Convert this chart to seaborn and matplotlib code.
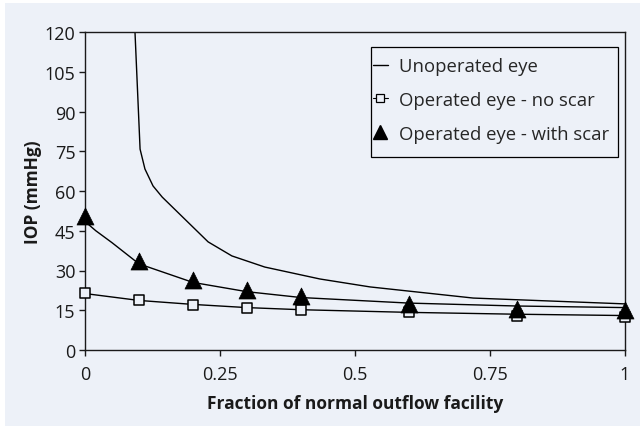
import matplotlib
matplotlib.use("Agg")
import matplotlib.pyplot as plt
from matplotlib.lines import Line2D
from matplotlib.patches import Rectangle
import seaborn as sns

# ---- data ----
unop_x = [0.09, 0.102, 0.111, 0.126, 0.143, 0.228, 0.272, 0.333, 0.435, 0.528, 0.719, 1.0]
unop_y = [132, 75.8, 68.3, 61.9, 57.7, 40.8, 35.5, 31.3, 26.8, 23.8, 19.6, 17.4]

scar_line_x = [0.0, 0.02, 0.05, 0.1, 0.2, 0.3, 0.4, 0.6, 0.8, 1.0]
scar_line_y = [48.5, 45.0, 40.5, 32.5, 25.5, 22.0, 19.8, 17.7, 16.6, 16.0]

noscar_line_x = [0.0, 0.1, 0.2, 0.3, 0.4, 0.6, 0.8, 1.0]
noscar_line_y = [21.3, 18.7, 17.2, 16.0, 15.2, 14.2, 13.5, 13.0]

marker_x = [0.0, 0.1, 0.2, 0.3, 0.4, 0.6, 0.8, 1.0]
scar_marker_y = [50.5, 33.6, 26.4, 22.8, 20.3, 17.5, 15.6, 15.0]
noscar_marker_y = [21.4, 18.9, 17.0, 15.8, 15.1, 14.2, 13.0, 12.6]

xticks = [0, 0.25, 0.5, 0.75, 1]
xticklabels = ["0", "0.25", "0.5", "0.75", "1"]
yticks = [0, 15, 30, 45, 60, 75, 90, 105, 120]

labels = ["Unoperated eye", "Operated eye - no scar", "Operated eye - with scar"]
xlabel = "Fraction of normal outflow facility"
ylabel = "IOP (mmHg)"

BG = "#edf1f8"
INK = "#1a1a1a"

sns.set_style("ticks")
plt.rcParams["font.family"] = ["Open Sans", "DejaVu Sans"]
plt.rcParams["font.size"] = 13

fig = plt.figure(figsize=(6.4, 4.27), dpi=100, facecolor="white")
fig.patches.append(Rectangle((5 / 640, 0), 1 - 5 / 640, (427 - 4) / 427,
                             transform=fig.transFigure, facecolor=BG,
                             edgecolor="none", zorder=-10))
ax = fig.add_axes([85 / 640, (427 - 351) / 427, (625 - 85) / 640, (351 - 33) / 427])
ax.set_facecolor(BG)

sns.lineplot(x=unop_x, y=unop_y, sort=False, color="black", lw=1.0, ax=ax, zorder=2)
sns.lineplot(x=scar_line_x, y=scar_line_y, sort=False, color="black", lw=1.0, ax=ax, zorder=2)
sns.lineplot(x=noscar_line_x, y=noscar_line_y, sort=False, color="black", lw=1.0, ax=ax, zorder=2)

sns.scatterplot(x=marker_x, y=noscar_marker_y, marker="s", s=48, facecolor=BG,
                edgecolor="black", linewidth=1.1, ax=ax, zorder=4, clip_on=False)
sns.scatterplot(x=marker_x, y=scar_marker_y, marker="^", s=150, color="black",
                edgecolor="black", linewidth=0.5, ax=ax, zorder=5, clip_on=False)

ax.set_xlim(0, 1)
ax.set_ylim(0, 120)
ax.set_xticks(xticks)
ax.set_xticklabels(xticklabels)
ax.set_yticks(yticks)
for s in ax.spines.values():
    s.set_visible(True)
    s.set_color(INK)
    s.set_linewidth(1.0)
ax.tick_params(axis="both", direction="out", length=4, width=1.0, colors=INK,
               labelsize=13, labelcolor=INK)
ax.tick_params(axis="x", pad=7)
ax.tick_params(axis="y", pad=3)

ax.set_xlabel(xlabel, fontsize=12.5, fontweight="bold", labelpad=7.5, color=INK)
ax.set_ylabel(ylabel, fontsize=12.5, fontweight="bold", labelpad=2, color=INK)

# legend frame
ax.add_patch(Rectangle((371 / 640, (427 - 158) / 427), 247 / 640, 110 / 427,
                       transform=fig.transFigure, facecolor=BG, edgecolor="black",
                       linewidth=0.9, clip_on=False, zorder=6))

handles = [
    Line2D([], [], color="black", lw=1.0),
    Line2D([], [], color="black", lw=0.8, marker="s", markersize=6,
           markerfacecolor=BG, markeredgecolor="black", markeredgewidth=0.9),
    Line2D([], [], color="none", marker="^", markersize=10,
           markerfacecolor="black", markeredgecolor="black"),
]
leg = ax.legend(handles, labels, loc="upper left",
                bbox_to_anchor=(373 / 640, (427 - 58) / 427),
                bbox_transform=fig.transFigure, frameon=False, fontsize=13.3,
                handlelength=0.8, handletextpad=0.6, labelspacing=0.86,
                borderpad=0, borderaxespad=0)
leg.set_zorder(7)

fig.savefig("out.png", dpi=100, facecolor="white")
